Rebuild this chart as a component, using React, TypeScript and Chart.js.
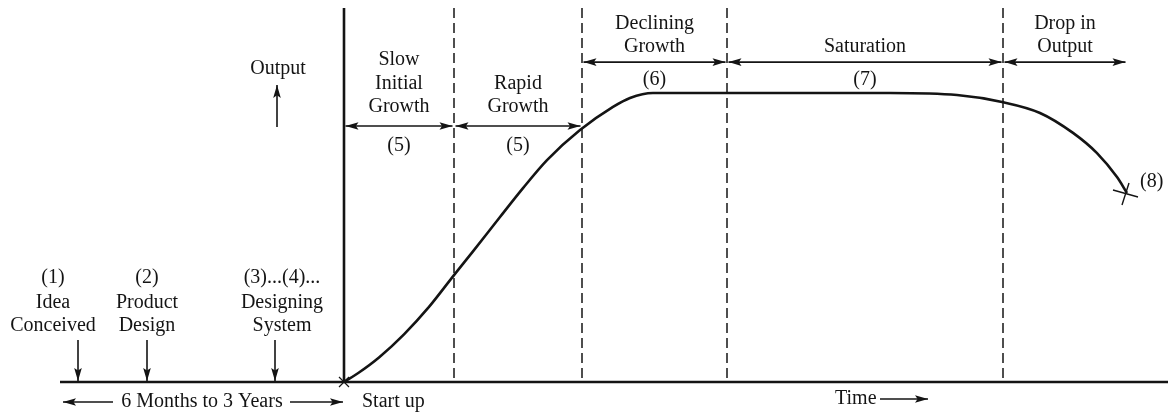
import React, { useEffect, useRef } from "react";
import { Chart, registerables } from "chart.js";

Chart.register(...registerables);

// ---- Data (time since start-up vs. output, plateau = 100) ----
const timeValues = [0, 15, 35, 60, 85, 110, 129, 156, 179, 203, 236, 269, 286, 309, 336, 546, 613, 658, 696, 729, 753, 773, 783];
const outputValues = [0, 3.3, 8.5, 16.5, 26.0, 37.0, 45.2, 57.1, 67.1, 76.8, 87.2, 95.2, 98.3, 100, 100, 100, 99.3, 96.9, 93.1, 86.2, 79.2, 70.9, 65.4];

// phase boundaries on the time axis (start-up = 0)
const phaseBounds = [0, 110, 238, 383, 659, 783];
const phaseTitles = [
  ["Slow", "Initial", "Growth"],
  ["Rapid", "Growth"],
  ["Declining", "Growth"],
  ["Saturation"],
  ["Drop in", "Output"],
];
const phaseNumbers = ["(5)", "(5)", "(6)", "(7)", ""];
const phaseArrowLevels = [88.6, 88.6, 110.7, 110.7, 110.7];

// pre start-up milestones
const milestoneTimes = [-266, -197, -69];
const milestoneLabelTimes = [-291, -197, -62];
const milestoneLabels = [
  ["(1)", "Idea", "Conceived"],
  ["(2)", "Product", "Design"],
  ["(3)...(4)...", "Designing", "System"],
];
const milestoneTextLevels = [36.0, 27.3, 19.4];
const milestoneArrowTop = 14.5;

const timeMin = -344;
const timeMax = 824;
const outputMin = -11.76;
const outputMax = 132.18;
const baselineStart = -284;
const axisTop = 129.4;

const INK = "#141414";
const FONT = '20px "Liberation Serif", "Times New Roman", serif';

function drawArrowHead(ctx: CanvasRenderingContext2D, x1: number, y1: number, x2: number, y2: number, len = 13, half = 3.8) {
  const a = Math.atan2(y2 - y1, x2 - x1);
  ctx.beginPath();
  ctx.moveTo(x2, y2);
  ctx.lineTo(x2 - len * Math.cos(a) + half * Math.sin(a), y2 - len * Math.sin(a) - half * Math.cos(a));
  ctx.lineTo(x2 - len * Math.cos(a) * 0.8, y2 - len * Math.sin(a) * 0.8);
  ctx.lineTo(x2 - len * Math.cos(a) - half * Math.sin(a), y2 - len * Math.sin(a) + half * Math.cos(a));
  ctx.closePath();
  ctx.fill();
}

function arrow(ctx: CanvasRenderingContext2D, x1: number, y1: number, x2: number, y2: number, both = false) {
  ctx.beginPath();
  ctx.moveTo(x1, y1);
  ctx.lineTo(x2, y2);
  ctx.stroke();
  drawArrowHead(ctx, x1, y1, x2, y2);
  if (both) drawArrowHead(ctx, x2, y2, x1, y1);
}

const diagramPlugin = {
  id: "diagram",
  beforeDatasetsDraw(chart: any) {
    const ctx: CanvasRenderingContext2D = chart.ctx;
    const X = (v: number) => chart.scales.x.getPixelForValue(v);
    const Y = (v: number) => chart.scales.y.getPixelForValue(v);
    ctx.save();
    ctx.strokeStyle = INK;
    // dashed phase separators
    ctx.lineWidth = 1.5;
    ctx.setLineDash([10, 5]);
    for (let i = 1; i < phaseBounds.length - 1; i++) {
      ctx.beginPath();
      ctx.moveTo(X(phaseBounds[i]), Y(axisTop));
      ctx.lineTo(X(phaseBounds[i]), Y(0));
      ctx.stroke();
    }
    ctx.setLineDash([]);
    // time baseline
    ctx.lineWidth = 2.6;
    ctx.beginPath();
    ctx.moveTo(X(baselineStart), Y(0));
    ctx.lineTo(X(timeMax), Y(0));
    ctx.stroke();
    // output axis at start-up
    ctx.beginPath();
    ctx.moveTo(X(0), Y(axisTop));
    ctx.lineTo(X(0), Y(0));
    ctx.stroke();
    ctx.restore();
  },
  afterDatasetsDraw(chart: any) {
    const ctx: CanvasRenderingContext2D = chart.ctx;
    const X = (v: number) => chart.scales.x.getPixelForValue(v);
    const Y = (v: number) => chart.scales.y.getPixelForValue(v);
    ctx.save();
    ctx.strokeStyle = INK;
    ctx.fillStyle = INK;
    ctx.font = FONT;
    ctx.textAlign = "center";
    ctx.textBaseline = "middle";
    ctx.lineWidth = 1.6;

    // phase arrows and labels
    for (let i = 0; i < phaseTitles.length; i++) {
      const x1 = X(phaseBounds[i]) + 1.5;
      const x2 = X(phaseBounds[i + 1]) - 1.5;
      const ay = Y(phaseArrowLevels[i]);
      arrow(ctx, x1, ay, x2, ay, true);
      const cx = (X(phaseBounds[i]) + X(phaseBounds[i + 1])) / 2;
      const lines = phaseTitles[i];
      const gap = i < 2 ? 19 : 15;
      for (let j = 0; j < lines.length; j++) {
        ctx.fillText(lines[j], cx, ay - gap - (lines.length - 1 - j) * 23.5);
      }
      if (phaseNumbers[i]) ctx.fillText(phaseNumbers[i], cx, ay + (i < 2 ? 20 : 17.5));
    }

    // Output label with up arrow
    ctx.fillText("Output", X(-66), Y(108.3));
    arrow(ctx, X(-67), Y(88.2), X(-67), Y(102.8));

    // milestones
    for (let i = 0; i < milestoneLabels.length; i++) {
      const lx = X(milestoneLabelTimes[i]);
      milestoneLabels[i].forEach((t, j) => ctx.fillText(t, lx, Y(milestoneTextLevels[j])));
      arrow(ctx, X(milestoneTimes[i]), Y(milestoneArrowTop), X(milestoneTimes[i]), Y(0) - 1);
    }

    // bottom captions
    ctx.fillText("6 Months to 3 Years", X(-142), Y(-6.9));
    arrow(ctx, X(-231), Y(-6.9), X(-281), Y(-6.9));
    arrow(ctx, X(-54), Y(-6.9), X(-1), Y(-6.9));
    ctx.textAlign = "left";
    ctx.fillText("Start up", X(18), Y(-6.9));
    ctx.fillText("Time", X(491), Y(-5.9));
    arrow(ctx, X(536), Y(-5.9), X(584), Y(-5.9));

    // start-up cross
    ctx.lineWidth = 1.2;
    const sx = X(0), sy = Y(0);
    ctx.beginPath();
    ctx.moveTo(sx - 5, sy - 5); ctx.lineTo(sx + 5, sy + 5);
    ctx.moveTo(sx - 5, sy + 5); ctx.lineTo(sx + 5, sy - 5);
    ctx.stroke();

    // end cross (8)
    const ex = X(timeValues[timeValues.length - 1]);
    const ey = Y(outputValues[outputValues.length - 1]);
    ctx.lineWidth = 1.4;
    ctx.beginPath();
    ctx.moveTo(ex - 14, ey - 3); ctx.lineTo(ex + 11, ey + 4);
    ctx.moveTo(ex + 2, ey - 10); ctx.lineTo(ex - 5, ey + 12);
    ctx.stroke();
    ctx.fillText("(8)", ex + 13, ey - 11);

    ctx.restore();
  },
};

export default function App() {
  const ref = useRef<HTMLCanvasElement | null>(null);
  useEffect(() => {
    document.body.style.margin = "0";
    document.body.style.background = "#ffffff";
    const canvas = ref.current;
    if (!canvas) return;
    const chart = new Chart(canvas, {
      type: "line",
      data: {
        datasets: [
          {
            label: "Output",
            data: timeValues.map((t, i) => ({ x: t, y: outputValues[i] })),
            borderColor: INK,
            borderWidth: 2.6,
            pointRadius: 0,
            fill: false,
            cubicInterpolationMode: "monotone",
          },
        ],
      },
      options: {
        responsive: false,
        animation: false,
        devicePixelRatio: 1,
        layout: { padding: 0 },
        plugins: { legend: { display: false }, tooltip: { enabled: false } },
        scales: {
          x: { type: "linear", min: timeMin, max: timeMax, display: false },
          y: { type: "linear", min: outputMin, max: outputMax, display: false },
        },
      },
      plugins: [diagramPlugin],
    } as any);
    return () => chart.destroy();
  }, []);
  return (
    <div style={{ width: 1168, height: 416, background: "#fff" }}>
      <canvas ref={ref} width={1168} height={416} style={{ display: "block" }} />
    </div>
  );
}
